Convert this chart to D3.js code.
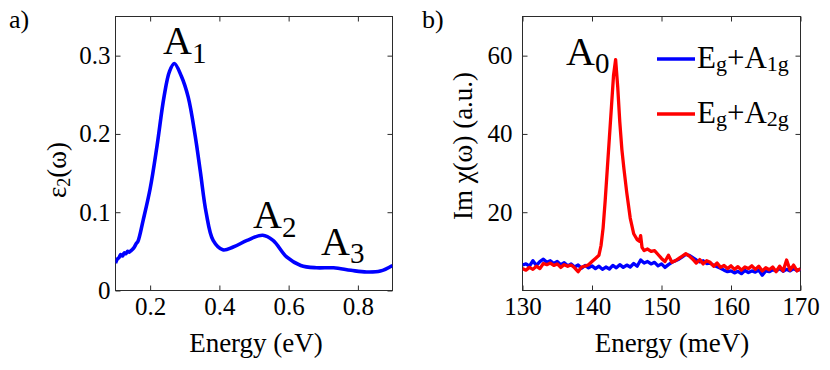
<!DOCTYPE html>
<html><head><meta charset="utf-8">
<script src="https://cdn.jsdelivr.net/npm/d3@7"></script>
</head>
<body style="margin:0;background:#fff">
<svg id="c" width="830" height="370" font-family="Liberation Serif"></svg>
<script>
// ---- Panel a) data ----
const epsEnergy = [0.10,0.105,0.11,0.115,0.12,0.125,0.13,0.135,0.14,0.145,0.15,0.155,0.16,0.165,0.18,0.20,0.22,0.24,0.256,0.27,0.29,0.31,0.33,0.345,0.362,0.382,0.41,0.44,0.48,0.525,0.555,0.595,0.635,0.68,0.73,0.78,0.825,0.865,0.90];
const epsValue  = [0.035,0.040,0.042,0.046,0.044,0.048,0.047,0.050,0.049,0.051,0.053,0.056,0.060,0.063,0.090,0.130,0.185,0.247,0.280,0.290,0.274,0.247,0.198,0.152,0.099,0.064,0.052,0.0555,0.064,0.0705,0.064,0.0425,0.032,0.029,0.029,0.0258,0.0236,0.0248,0.032];
const epsXTicks = [0.2,0.4,0.6,0.8];
const epsYTicks = [0,0.1,0.2,0.3];

// ---- Panel b) data ----
const chiEnergyBlue = [130,130.5,131,131.5,132,132.5,133,133.5,134,134.5,135,135.5,136,136.5,137,137.5,138,138.5,139,139.5,140,140.5,141,141.5,142,142.5,143,143.5,144,144.5,145,145.5,146,146.5,147,147.5,148,148.5,149,149.5,150,150.5,151,151.5,152,152.5,153,153.5,154,154.5,155,155.5,156,156.5,157,157.5,158,158.5,159,159.5,160,160.5,161,161.5,162,162.5,163,163.5,164,164.5,165,165.5,166,166.5,167,167.5,168,168.5,169,169.5,170];
const chiBlue = [6.5,6.8,6.2,7.6,6.4,7.4,8.0,7.2,7.6,6.9,7.4,6.6,7.1,6.3,6.8,6.0,6.5,5.7,6.4,5.8,6.3,5.6,6.2,5.4,6.0,5.5,6.4,5.8,6.6,5.9,6.5,6.0,6.9,6.2,7.8,7.0,7.4,6.8,7.2,6.3,6.8,5.9,6.6,7.2,7.6,8.0,8.6,9.2,9.0,8.4,7.8,7.3,7.6,6.9,7.0,6.4,6.1,5.7,5.2,4.8,5.0,4.5,4.9,4.3,5.1,4.6,5.0,4.7,5.2,3.9,5.0,4.8,5.3,5.0,5.6,4.9,5.4,5.0,5.6,5.1,5.4];
const chiEnergyRed = [130,130.5,131,131.5,132,132.5,133,133.5,134,134.5,135,135.5,136,136.5,137,137.5,138,138.5,139,139.5,140,140.5,141,141.3,141.6,141.9,142.2,142.5,142.8,143.1,143.4,143.7,144.0,144.3,144.6,145,145.5,146,146.5,146.8,147,147.2,147.5,148,148.5,149,149.5,150,150.5,151,151.5,152,152.5,153,153.5,154,154.5,155,155.5,156,156.5,157,157.5,158,158.5,159,159.5,160,160.5,161,161.5,162,162.5,163,163.5,164,164.5,165,165.5,166,166.5,167,167.5,168,168.5,169,169.5,170];
const chiRed = [5.6,5.2,5.9,5.4,6.2,5.6,6.9,6.6,7.0,6.4,6.8,5.9,6.6,6.2,6.5,5.8,4.8,6.0,6.2,6.6,7.4,8.2,9.0,11.5,16,23,31,39,47,55,59,52,43,36,31,25,18.5,14.5,13.0,12.6,14.0,11.0,10.2,10.6,10.0,10.2,9.2,8.2,7.4,9.0,7.2,7.6,8.2,8.8,9.4,8.8,8.0,7.0,7.9,6.8,7.6,7.2,6.2,7.0,5.9,6.4,5.6,6.3,5.4,6.1,5.2,6.0,5.6,6.3,5.4,6.2,5.0,5.8,5.3,6.0,4.8,6.2,5.0,7.8,5.2,6.5,5.0,5.6];
const chiXTicks = [130,140,150,160,170];
const chiYTicks = [20,40,60];
const legendLabels = [["E","g","+A","1g"],["E","g","+A","2g"]];
const seriesColors = ["#0000ff","#ff0000"];

const FONT = "Liberation Serif";
const svg = d3.select("#c");
const boxColor = "#2b2b2b";

function panel(opts){
  const g = svg.append("g");
  const x = d3.scaleLinear().domain(opts.xd).range([opts.x0, opts.x1]);
  const y = d3.scaleLinear().domain(opts.yd).range([opts.y1, opts.y0]);
  const clipId = "clip"+opts.id;
  svg.append("clipPath").attr("id",clipId).append("rect")
    .attr("x",opts.x0).attr("y",opts.y0).attr("width",opts.x1-opts.x0).attr("height",opts.y1-opts.y0);
  const fmt = opts.fmt;
  const ax = [
    [d3.axisBottom(x).tickValues(opts.xt).tickFormat(fmt.x).tickSizeInner(-5).tickSizeOuter(0).tickPadding(7), `translate(0,${opts.y1})`],
    [d3.axisTop(x).tickValues(opts.xt).tickFormat("").tickSizeInner(-5).tickSizeOuter(0), `translate(0,${opts.y0})`],
    [d3.axisLeft(y).tickValues(opts.yt).tickFormat(fmt.y).tickSizeInner(-5).tickSizeOuter(0).tickPadding(opts.ypad), `translate(${opts.x0},0)`],
    [d3.axisRight(y).tickValues(opts.yt).tickFormat("").tickSizeInner(-5).tickSizeOuter(0), `translate(${opts.x1},0)`]
  ];
  ax.forEach(([a,t])=>{
    const ag = g.append("g").attr("transform",t).call(a).attr("font-family",FONT).attr("font-size",25);
    ag.select(".domain").remove();
    ag.selectAll("line").attr("stroke",boxColor);
    ag.selectAll("text").attr("fill","#000");
  });
  g.append("rect").attr("x",opts.x0).attr("y",opts.y0).attr("width",opts.x1-opts.x0).attr("height",opts.y1-opts.y0)
    .attr("fill","none").attr("stroke",boxColor).attr("stroke-width",1);
  const plot = g.append("g").attr("clip-path",`url(#${clipId})`);
  return {g,x,y,plot};
}

// Panel a
const A = panel({id:"a", x0:115.5, x1:392.5, y0:16.5, y1:290.5, xd:[0.1,0.9], yd:[0,0.35],
  xt:epsXTicks, yt:epsYTicks, ypad:5, fmt:{x:d=>d3.format(".1f")(d), y:d=>d===0?"0":d3.format(".1f")(d)}});
A.plot.append("path").datum(epsEnergy.map((e,i)=>[e,epsValue[i]]))
  .attr("d", d3.line().x(d=>A.x(d[0])).y(d=>A.y(d[1])).curve(d3.curveCatmullRom.alpha(0.5)))
  .attr("fill","none").attr("stroke",seriesColors[0]).attr("stroke-width",3.6).attr("stroke-linejoin","round");

// Panel b
const B = panel({id:"b", x0:522.5, x1:800.5, y0:16.5, y1:290.5, xd:[130,170], yd:[0,70],
  xt:chiXTicks, yt:chiYTicks, ypad:10, fmt:{x:d=>String(d), y:d=>String(d)}});
const lineB = d3.line().x(d=>B.x(d[0])).y(d=>B.y(d[1]));
B.plot.append("path").datum(chiEnergyBlue.map((e,i)=>[e,chiBlue[i]]))
  .attr("d", lineB).attr("fill","none").attr("stroke",seriesColors[0]).attr("stroke-width",3.3).attr("stroke-linejoin","round");
B.plot.append("path").datum(chiEnergyRed.map((e,i)=>[e,chiRed[i]]))
  .attr("d", lineB).attr("fill","none").attr("stroke",seriesColors[1]).attr("stroke-width",3.3).attr("stroke-linejoin","round");

// Peak labels
function peakLabel(x,y,sub,subDy){
  const t = svg.append("text").attr("x",x).attr("y",y).attr("font-size",40).attr("fill","#000").attr("font-family",FONT);
  t.append("tspan").text("A");
  t.append("tspan").attr("dy",subDy).attr("font-size",29).text(sub);
}
peakLabel(163,54,"1",8.5);
peakLabel(253,228,"2",8.5);
peakLabel(321,255,"3",8);
peakLabel(566,65,"0",7.5);

// Legend
const legY = [59,114];
legendLabels.forEach((parts,i)=>{
  svg.append("line").attr("x1",657).attr("x2",695).attr("y1",legY[i]).attr("y2",legY[i])
    .attr("stroke",seriesColors[i]).attr("stroke-width",3.6);
  const t = svg.append("text").attr("x",697).attr("y",legY[i]+9).attr("font-size",31).attr("fill","#000").attr("font-family",FONT);
  t.append("tspan").text(parts[0]);
  t.append("tspan").attr("dy",3).attr("font-size",22).text(parts[1]);
  t.append("tspan").attr("dy",-3).text(parts[2]);
  t.append("tspan").attr("dy",3).attr("font-size",22).text(parts[3]);
});

// Axis labels
svg.append("text").attr("x",256).attr("y",352).attr("text-anchor","middle").attr("font-size",27).attr("font-family",FONT).text("Energy (eV)");
svg.append("text").attr("x",672).attr("y",352).attr("text-anchor","middle").attr("font-size",27).attr("font-family",FONT).text("Energy (meV)");
const yl = svg.append("text").attr("transform","translate(66,170) rotate(-90)").attr("text-anchor","middle").attr("font-size",27).attr("font-family",FONT);
yl.append("tspan").text("ε");
yl.append("tspan").attr("dy",4).attr("font-size",18).text("2");
yl.append("tspan").attr("dy",-4).text("(ω)");
svg.append("text").attr("transform","translate(472,146) rotate(-90)").attr("text-anchor","middle").attr("font-size",27).attr("font-family",FONT).text("Im χ(ω) (a.u.)");

// Panel labels
svg.append("text").attr("x",9).attr("y",28).attr("font-size",26).attr("font-family",FONT).text("a)");
svg.append("text").attr("x",422).attr("y",28).attr("font-size",26).attr("font-family",FONT).text("b)");
</script></body></html>
